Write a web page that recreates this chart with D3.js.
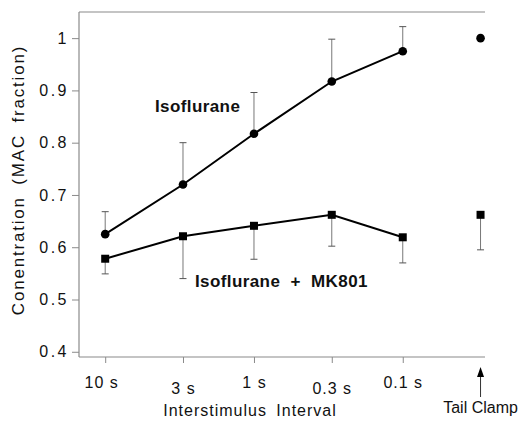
<!DOCTYPE html>
<html>
<head>
<meta charset="utf-8">
<script src="https://cdnjs.cloudflare.com/ajax/libs/d3/7.8.5/d3.min.js"></script>
<style>
  body { margin: 0; background: #fff; }
  text { font-family: "Liberation Sans", Arial, Helvetica, sans-serif; fill: #111; }
</style>
</head>
<body>
<div class="chart"></div>
<script>
// Data
var intervals = [10, 3, 1, 0.3, 0.1];
var tickLabels = ["10 s", "3 s", "1 s", "0.3 s", "0.1 s"];
var isoMean = [0.625, 0.72, 0.817, 0.917, 0.975];
var isoErr = [0.043, 0.08, 0.079, 0.081, 0.047];
var mkMean = [0.578, 0.621, 0.641, 0.662, 0.619];
var mkErr = [0.029, 0.081, 0.064, 0.06, 0.049];
var tailIso = 1.0;
var tailMk = 0.662;
var tailMkErr = 0.067;
var yTicks = [0.4, 0.5, 0.6, 0.7, 0.8, 0.9, 1];

// SVG area
var svgWidth = 520;
var svgHeight = 424;
var margin = {top: 12, right: 35, bottom: 67, left: 79};
var width = svgWidth - margin.left - margin.right;
var height = svgHeight - margin.top - margin.bottom;

var svg = d3.select(".chart")
  .append("svg")
  .attr("width", svgWidth)
  .attr("height", svgHeight);

var chart = svg.append("g")
  .attr("transform", "translate(" + margin.left + "," + margin.top + ")");

// Interval axis is logarithmic, tail clamp sits one step past 0.1 s
var xScale = d3.scaleLog().domain([15, 0.028]).range([0, width]);
var tailPos = 0.03;
var yScale = d3.scaleLinear().domain([0.39, 1.05]).range([height, 0]);

var axisColor = "#8a8a8a";

// frame: left axis, bottom axis, top line
chart.append("line")
  .attr("x1", 0).attr("x2", 0).attr("y1", 0).attr("y2", height)
  .attr("stroke", axisColor).attr("stroke-width", 1.2);
chart.append("line")
  .attr("x1", 0).attr("x2", width).attr("y1", height).attr("y2", height)
  .attr("stroke", axisColor).attr("stroke-width", 1.2);
chart.append("line")
  .attr("x1", 0).attr("x2", width).attr("y1", 0).attr("y2", 0)
  .attr("stroke", axisColor).attr("stroke-width", 1.2);

// y ticks
var leftAxis = d3.axisLeft(yScale)
  .tickValues(yTicks)
  .tickSize(7)
  .tickPadding(3)
  .tickFormat(function(d) { return d === 1 ? "1" : d.toFixed(1); });
var yAxisG = chart.append("g").call(leftAxis);
yAxisG.select(".domain").remove();
yAxisG.selectAll("line").attr("stroke", axisColor);
yAxisG.selectAll("text")
  .attr("font-size", 16)
  .attr("letter-spacing", 2.5)
  .attr("font-family", null)
  .attr("fill", "#111");

// x ticks
var bottomAxis = d3.axisBottom(xScale)
  .tickValues(intervals)
  .tickSize(6)
  .tickPadding(14)
  .tickFormat(function(d, i) { return tickLabels[i]; });
var xAxisG = chart.append("g")
  .attr("transform", "translate(0," + height + ")")
  .call(bottomAxis);
xAxisG.select(".domain").remove();
xAxisG.selectAll("line").attr("stroke", axisColor);
xAxisG.selectAll("text")
  .attr("font-size", 16)
  .attr("letter-spacing", 1)
  .attr("font-family", null)
  .attr("fill", "#111")
  .style("white-space", "pre")
  .attr("transform", function(d, i) { return "translate(" + (i === 0 ? -4 : 0) + "," + (i % 2 === 1 ? 6 : 0) + ")"; });

// error bars
function errorBars(means, errs, dir) {
  var g = chart.append("g");
  means.forEach(function(m, i) {
    var x = xScale(intervals[i]);
    var end = m + dir * errs[i];
    g.append("line")
      .attr("x1", x).attr("x2", x)
      .attr("y1", yScale(m)).attr("y2", yScale(end))
      .attr("stroke", "#777").attr("stroke-width", 1);
    g.append("line")
      .attr("x1", x - 3.5).attr("x2", x + 3.5)
      .attr("y1", yScale(end)).attr("y2", yScale(end))
      .attr("stroke", "#555").attr("stroke-width", 1);
  });
}
errorBars(isoMean, isoErr, 1);
errorBars(mkMean, mkErr, -1);

// tail clamp error bar (MK801 only)
chart.append("line")
  .attr("x1", xScale(tailPos)).attr("x2", xScale(tailPos))
  .attr("y1", yScale(tailMk)).attr("y2", yScale(tailMk - tailMkErr))
  .attr("stroke", "#777").attr("stroke-width", 1);
chart.append("line")
  .attr("x1", xScale(tailPos) - 3.5).attr("x2", xScale(tailPos) + 3.5)
  .attr("y1", yScale(tailMk - tailMkErr)).attr("y2", yScale(tailMk - tailMkErr))
  .attr("stroke", "#555").attr("stroke-width", 1);

// lines
var line = d3.line()
  .x(function(d, i) { return xScale(intervals[i]); })
  .y(function(d) { return yScale(d); });

chart.append("path")
  .datum(isoMean)
  .attr("d", line)
  .attr("fill", "none")
  .attr("stroke", "#000")
  .attr("stroke-width", 2);
chart.append("path")
  .datum(mkMean)
  .attr("d", line)
  .attr("fill", "none")
  .attr("stroke", "#000")
  .attr("stroke-width", 2);

// markers
chart.selectAll(".iso-dot")
  .data(isoMean.concat([tailIso]))
  .enter().append("circle")
  .attr("class", "iso-dot")
  .attr("cx", function(d, i) { return xScale(i < intervals.length ? intervals[i] : tailPos); })
  .attr("cy", function(d) { return yScale(d); })
  .attr("r", 4.3)
  .attr("fill", "#000");

chart.selectAll(".mk-sq")
  .data(mkMean.concat([tailMk]))
  .enter().append("rect")
  .attr("class", "mk-sq")
  .attr("x", function(d, i) { return xScale(i < intervals.length ? intervals[i] : tailPos) - 4; })
  .attr("y", function(d) { return yScale(d) - 4; })
  .attr("width", 8)
  .attr("height", 8)
  .attr("fill", "#000");

// series labels
chart.append("text")
  .attr("x", 76).attr("y", 100)
  .attr("font-size", 17)
  .attr("font-weight", "bold")
  .attr("letter-spacing", 0.4)
  .text("Isoflurane");
chart.append("text")
  .attr("x", 116).attr("y", 275)
  .attr("font-size", 17)
  .attr("font-weight", "bold")
  .attr("letter-spacing", 0.4)
  .style("white-space", "pre")
  .text("Isoflurane  +  MK801");

// tail clamp arrow
var tx = xScale(tailPos);
chart.append("line")
  .attr("x1", tx).attr("x2", tx)
  .attr("y1", height + 40).attr("y2", height + 18)
  .attr("stroke", "#333").attr("stroke-width", 1);
chart.append("path")
  .attr("d", "M" + tx + "," + (height + 10) + " L" + (tx - 3.5) + "," + (height + 20) + " L" + (tx + 3.5) + "," + (height + 20) + " Z")
  .attr("fill", "#000");
chart.append("text")
  .attr("x", tx).attr("y", height + 56)
  .attr("text-anchor", "middle")
  .attr("font-size", 16)
  .text("Tail Clamp");

// axis titles
chart.append("text")
  .attr("x", 171).attr("y", height + 59)
  .attr("text-anchor", "middle")
  .attr("font-size", 16)
  .attr("letter-spacing", 1)
  .attr("word-spacing", 4)
  .text("Interstimulus Interval");

chart.append("text")
  .attr("transform", "translate(" + (-margin.left + 24) + "," + (168) + ") rotate(-90)")
  .attr("text-anchor", "middle")
  .attr("font-size", 17)
  .attr("letter-spacing", 1.8)
  .attr("word-spacing", 5)
  .text("Conentration (MAC fraction)");
</script>
</body>
</html>
